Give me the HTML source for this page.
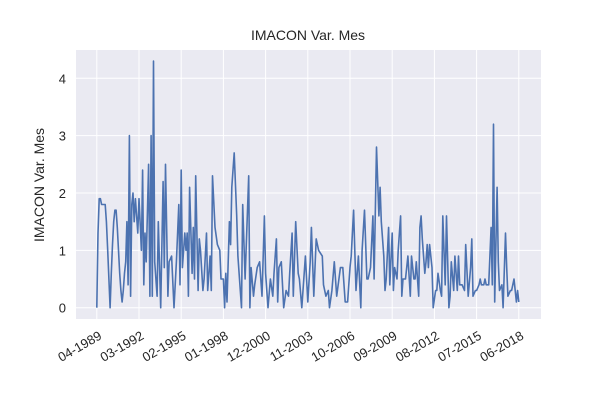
<!DOCTYPE html>
<html><head><meta charset="utf-8"><style>
body{margin:0;background:#fff;}
svg text{font-family:"Liberation Sans","DejaVu Sans",sans-serif;fill:#262626;}
</style></head><body>
<svg id="chart" width="600" height="400">
<rect x="76" y="50" width="465" height="269" fill="#EAEAF2"/>
<g id="grid"></g>
<g id="xt"></g>
<g id="yt"></g>
<path id="line" fill="none" stroke="#4C72B0" stroke-width="1.6" stroke-linejoin="round"/>
<text x="308" y="40" font-size="14" text-anchor="middle">IMACON Var. Mes</text>
<text transform="translate(44,185) rotate(-90)" font-size="14" text-anchor="middle">IMACON Var. Mes</text>
</svg>
<script>
const months=[0,1,2,3,4,6,7,8,9,10,11,12,13,14,15,16,17,18,19,20,21,22,23,24,25,26,27,28,29,30,31,32,34,35,37,38,39,40,41,43,44,45,46,47,48,50,51,53,55,56,57,59,60,62,64,66,68,69,70,71,73,74,75,76,77,79,80,81,82,84,85,86,88,89,91,92,94,95,96,98,100,102,103,105,106,107,108,110,111,112,114,116,117,120,121,123,126,127,128,130,131,133,135,137,139,140,142,144,146,147,149,150,151,153,155,157,159,160,162,163,165,167,168,170,171,173,175,177,178,180,182,184,187,188,190,192,193,195,197,199,202,204,206,208,210,211,213,215,217,219,220,222,224,225,227,229,230,232,234,235,236,238,239,240,242,243,245,246,247,249,250,252,253,254,256,257,258,260,261,263,264,265,267,268,269,270,272,273,274,275,276,278,279,281,282,283,285,286,287,289,290,292,293,294,296,297,299,300,301,303,305,306,308,310,311,312,314,315,317,318,319,321,322,323,325,327,328,329,330,332,333,334,336,337,339,340,341,343,344,346,347,348,349,350];
const values=[0,1.3,1.9,1.9,1.8,1.8,1.8,1.5,1.0,0.5,0,0.6,1.1,1.5,1.7,1.7,1.4,1.0,0.6,0.3,0.1,0.3,0.6,0.8,1.5,0.4,3.0,0.2,1.8,2.0,1.5,1.9,1.3,1.9,1.0,2.4,0.4,1.3,0.8,2.5,0.2,3.0,0.2,4.3,0.8,0.2,1.5,0,2.2,0.7,2.5,0.2,0.8,0.9,0,0.8,1.8,0.4,2.4,0.7,1.3,1.0,1.3,0.2,2.1,0.6,1.4,0.5,2.3,0.3,1.2,1.0,0.3,0.5,1.3,0.3,0.9,0.3,2.3,1.4,1.1,1.0,0.5,0.5,0,0.6,0.1,1.5,1.1,2.1,2.7,1.6,0.9,0,1.8,0.5,2.3,0,0.7,0.2,0.4,0.7,0.8,0.2,1.6,0.6,0,0.5,0.2,0.6,1.2,0.1,0.7,0.8,0,0.3,0.2,0.6,1.3,0.2,1.5,0.6,0.5,0,0.3,0.9,0.1,0.8,1.4,0.2,1.2,1.0,0.9,0.4,0.2,0.3,0,0.3,0.8,0.2,0.7,0.7,0.1,0.1,0.7,0.9,1.7,0.3,0.9,0,1.0,1.7,0.5,0.5,0.7,1.6,0.5,2.8,1.6,2.1,1.5,0.9,0.3,0.5,1.4,0.4,1.3,0.3,0.7,0.5,1.0,1.6,0.2,0.5,0.5,0.7,0.9,0.2,0.9,0.5,0.5,0.8,0.2,1.4,1.6,1.2,0.6,0.8,1.1,0.7,1.1,0.7,0,0.3,0.3,0.6,0.3,0.2,1.6,0.4,1.6,0,0.2,0.8,0.3,0.9,0.3,0.9,0.4,0.4,0.3,1.1,0.2,0.7,1.2,0.2,0.3,0.3,0.4,0.5,0.4,0.4,0.5,0.4,0.4,1.4,0.4,3.2,0.1,2.1,0.8,0.3,0.4,0,1.3,0.7,0.2,0.3,0.3,0.5,0.3,0.1,0.3,0.1];
const xTickMonths=[0,35,70,105,140,175,210,245,280,315,350];
const xTickLabels=["04-1989","03-1992","02-1995","01-1998","12-2000","11-2003","10-2006","09-2009","08-2012","07-2015","06-2018"];
const yTicks=[0,1,2,3,4];
const X=m=>96.8+m*1.2057, Y=v=>307.7-v*57.35;
const NS="http://www.w3.org/2000/svg";
const grid=document.getElementById('grid'),xt=document.getElementById('xt'),yt=document.getElementById('yt');
function mk(t,a){const e=document.createElementNS(NS,t);for(const k in a)e.setAttribute(k,a[k]);return e;}
xTickMonths.forEach((m,i)=>{
 const l=mk('line',{x1:X(m),x2:X(m),y1:50,y2:319,stroke:'#fff','stroke-width':1});
 
 
 grid.appendChild(l);
 const t=mk('text',{transform:`translate(${X(m)+1},${330}) rotate(-30)`,'font-size':13,'text-anchor':'end','dominant-baseline':'hanging'});
 t.textContent=xTickLabels[i];
 
 
 xt.appendChild(t);
});
yTicks.forEach(v=>{
 const l=mk('line',{x1:76,x2:541,y1:Y(v),y2:Y(v),stroke:'#fff','stroke-width':1});
 
 
 grid.appendChild(l);
 const t=mk('text',{x:66,y:Y(v)+5,'font-size':13,'text-anchor':'end'});
 t.textContent=v;
 
 
 yt.appendChild(t);
});
document.getElementById('line').setAttribute('d',months.map((m,i)=>(i?'L':'M')+X(m).toFixed(1)+','+Y(values[i]).toFixed(1)).join(''));
</script>
</body></html>
